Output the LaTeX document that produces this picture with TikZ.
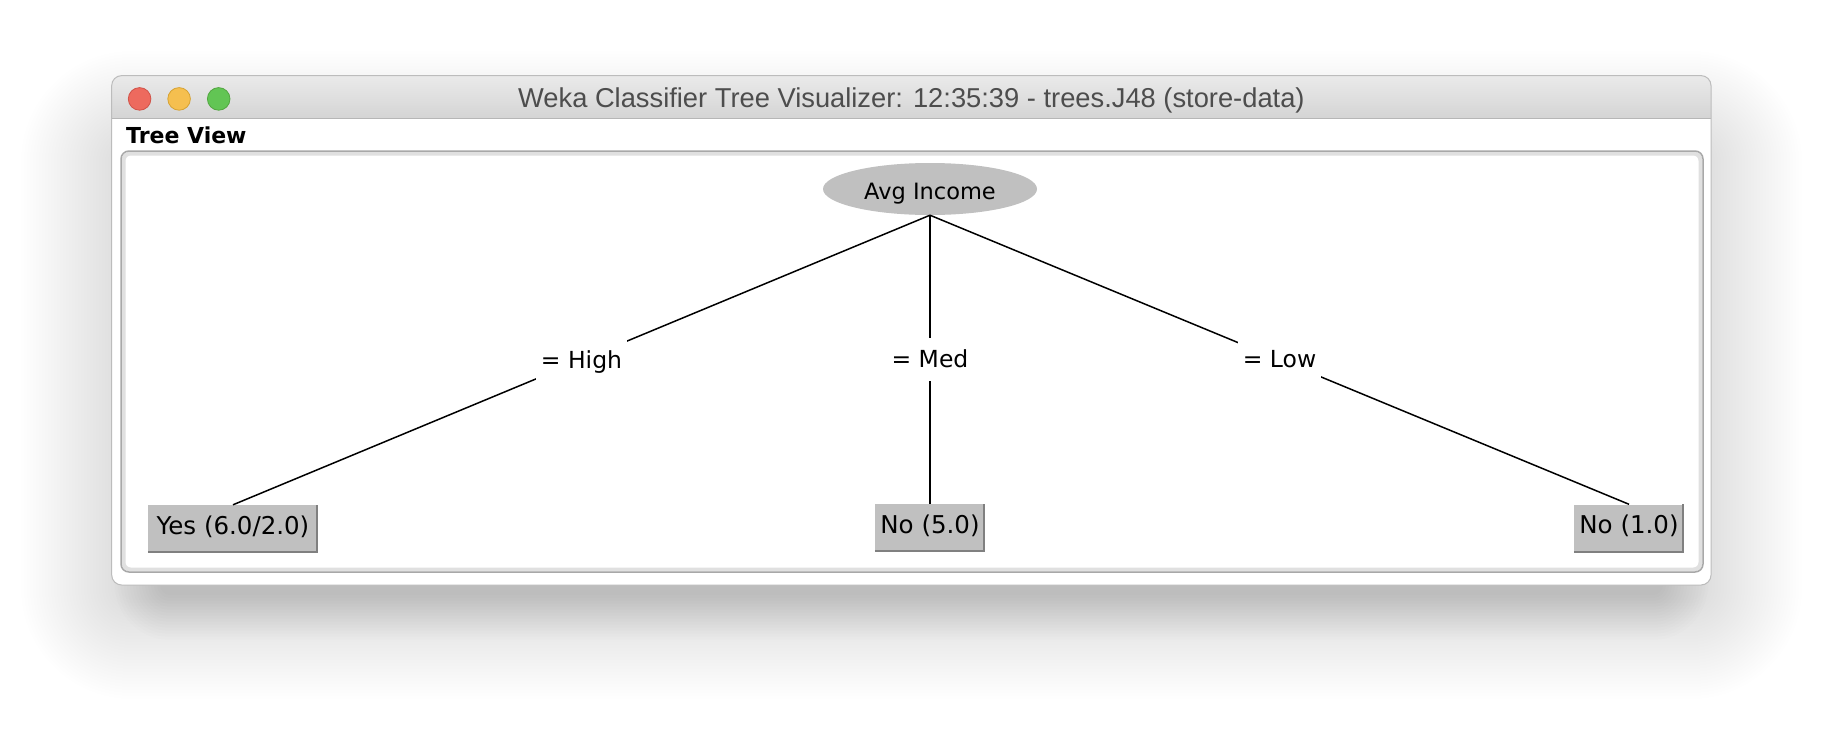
\documentclass[tikz,border=0pt]{standalone}
\usepackage{fontspec}
\setmainfont{DejaVu Sans}
\newfontfamily\titlefont{Liberation Sans}
\usetikzlibrary{shapes.geometric}
\definecolor{nodegray}{RGB}{192,192,192}
\definecolor{nodeedge}{RGB}{128,128,128}
\definecolor{titletxt}{RGB}{77,77,77}
\definecolor{barTop}{RGB}{234,234,234}
\definecolor{barBot}{RGB}{212,212,212}
\definecolor{winborder}{RGB}{188,188,188}
\definecolor{barline}{RGB}{182,182,182}
\definecolor{redlight}{RGB}{237,106,94}
\definecolor{redborder}{RGB}{208,82,72}
\definecolor{yellowlight}{RGB}{245,191,79}
\definecolor{yellowborder}{RGB}{214,162,50}
\definecolor{greenlight}{RGB}{98,197,84}
\definecolor{greenborder}{RGB}{82,166,64}
\definecolor{panelOuter}{RGB}{168,168,168}
\definecolor{panelInner}{RGB}{224,224,224}
\begin{document}
\begin{tikzpicture}[x=1pt,y=-1pt,
  rootnode/.style={ellipse, fill=nodegray, minimum width=214, minimum height=52, inner sep=0,
    font=\fontsize{22.5}{27}\selectfont, text height=24, text depth=3},
  leafnode/.style={rectangle, fill=nodegray, minimum height=48, inner sep=0,
    font=\fontsize{24.5}{29}\selectfont, text height=18, text depth=8},
  leafshade/.style={draw=nodeedge, line width=2},
  edgelbl/.style={fill=white, inner xsep=5, inner ysep=10, text height=19.5, text depth=3.5,
    font=\fontsize{23.5}{28}\selectfont},
  treeedge/.style={draw=black, line width=1.5},
  light/.style={line width=0.8}]
\useasboundingbox (0,0) rectangle (1824,734);
\fill[white] (0,0) rectangle (1824,734);
% shadow: broad faint part
\foreach \i [evaluate=\i as \r using 12+3*\i] in {0,...,33}{
  \fill[black, opacity=0.0042, rounded corners=\r pt] ({120-3*\i},{150-3*\i}) rectangle ({1703+3*\i},{600+3*\i});
}
% shadow: tight darker part
\foreach \i [evaluate=\i as \r using 10+3*\i] in {0,...,15}{
  \fill[black, opacity=0.0085, rounded corners=\r pt] ({160-3*\i},{200-3*\i}) rectangle ({1663+3*\i},{595+3*\i});
}
% window
\fill[white, rounded corners=10pt] (111.7,75.6) rectangle (1711,585);
\begin{scope}
  \clip[rounded corners=10pt] (111.7,75.6) rectangle (1711,585);
  \shade[top color=barTop, bottom color=barBot] (111.7,75.6) rectangle (1711,118.7);
\end{scope}
\draw[barline, line width=1] (111.7,118.7) -- (1711,118.7);
\draw[winborder, line width=1, rounded corners=10pt] (111.7,75.6) rectangle (1711,585);
% traffic lights
\filldraw[fill=redlight, draw=redborder, light] (139.6,98.9) circle[radius=11.3pt];
\filldraw[fill=yellowlight, draw=yellowborder, light] (179.1,98.9) circle[radius=11.3pt];
\filldraw[fill=greenlight, draw=greenborder, light] (218.7,98.9) circle[radius=11.3pt];
\node[text=titletxt, font=\titlefont\fontsize{27.3}{32}\selectfont, anchor=base, inner sep=0] (title) at (911.4,107.5) {Weka Classifier Tree Visualizer: 12:35:39 - trees.J48 (store-data)};
\node[anchor=base west, inner sep=0, font=\bfseries\fontsize{22}{26}\selectfont] (tv) at (126,143) {Tree View};
% panel
\draw[panelInner, line width=4, rounded corners=7pt] (123.5,153.5) rectangle (1700.5,569.5);
\draw[panelOuter, line width=1.5, rounded corners=8pt] (121,151) rectangle (1703,572);
% tree
\node[rootnode] (root) at (930,189) {Avg Income};
\node[leafnode, minimum width=170] (leafA) at (233,529) {Yes (6.0/2.0)};
\node[leafnode, minimum width=110] (leafB) at (930,528) {No (5.0)};
\node[leafnode, minimum width=110] (leafC) at (1629,528.5) {No (1.0)};
\draw[leafshade] ([shift={(0,-1)}]leafA.south west) -| ([shift={(-1,0)}]leafA.north east);
\draw[leafshade] ([shift={(0,-1)}]leafB.south west) -| ([shift={(-1,0)}]leafB.north east);
\draw[leafshade] ([shift={(0,-1)}]leafC.south west) -| ([shift={(-1,0)}]leafC.north east);
\draw[treeedge] (root.south) -- node[edgelbl] (lA) {= High} (leafA.north);
\draw[treeedge] (root.south) -- node[edgelbl] (lB) {= Med} (leafB.north);
\draw[treeedge] (root.south) -- node[edgelbl] (lC) {= Low} (leafC.north);
\end{tikzpicture}
\end{document}
